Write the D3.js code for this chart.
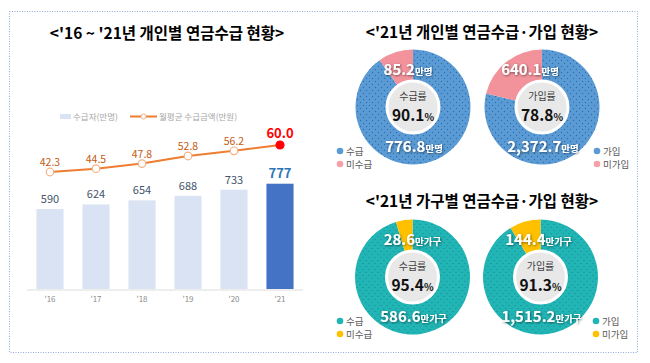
<!DOCTYPE html>
<html>
<head>
<meta charset="utf-8">
<script src="https://cdn.jsdelivr.net/npm/d3@7"></script>
<style>
  body { margin: 0; background: #fff; }
  svg { display: block; font-family: "Noto Sans CJK KR", "Noto Sans", sans-serif; }
</style>
</head>
<body>
<svg width="650" height="363"></svg>
<script>
// bar + line data
const years = ["'16", "'17", "'18", "'19", "'20", "'21"];
const recipients = [590, 624, 654, 688, 733, 777];
const avgAmount = [42.3, 44.5, 47.8, 52.8, 56.2, 60.0];

// donut data: [received/joined, not]
const personReceive = [776.8, 85.2];
const personJoin = [2372.7, 640.1];
const householdReceive = [586.6, 28.6];
const householdJoin = [1515.2, 144.4];
const rateLabels = ['90.1', '78.8', '95.4', '91.3'];
const valueLabels = [
  ['776.8', '85.2'],
  ['2,372.7', '640.1'],
  ['586.6', '28.6'],
  ['1,515.2', '144.4'],
];

const svg = d3.select('svg');

// frame
svg.append('rect')
  .attr('x', 9.5).attr('y', 11.5).attr('width', 628).attr('height', 341)
  .attr('fill', 'none').attr('stroke', '#8faadc').attr('stroke-width', 1)
  .attr('stroke-dasharray', '1,1.5');

// ---------- left chart ----------
svg.append('text')
  .attr('x', 167).attr('y', 39).attr('text-anchor', 'middle')
  .attr('font-size', 15.5).attr('font-weight', 'bold').attr('fill', '#000')
  .text("<'16 ~ '21년 개인별 연금수급 현황>");

const BASE = 289;
const x = d3.scaleBand().domain(years).range([27, 303])
  .paddingInner(0.41).paddingOuter(0.205);
const y = d3.scaleLinear().domain([0, 1000]).range([BASE, BASE - 135.5]);
const yLine = d3.scaleLinear().domain([0, 60]).range([236.5, 145]);

const last = years.length - 1;

svg.append('g')
  .selectAll('rect')
  .data(recipients)
  .enter()
  .append('rect')
  .attr('x', (d, i) => x(years[i]))
  .attr('y', (d) => y(d))
  .attr('width', x.bandwidth())
  .attr('height', (d) => BASE - y(d))
  .attr('fill', (d, i) => (i === last ? '#4472c4' : '#dae3f3'));

// axis line
svg.append('line')
  .attr('x1', 27).attr('x2', 303).attr('y1', BASE + 1).attr('y2', BASE + 1)
  .attr('stroke', '#eeeeee').attr('stroke-width', 2);

const axis = svg.append('g')
  .attr('transform', `translate(0, ${BASE + 3})`)
  .call(d3.axisBottom(x).tickSize(0).tickPadding(4));
axis.select('.domain').remove();
axis.selectAll('text')
  .attr('font-size', 8).attr('fill', '#8c8c8c')
  .attr('font-family', '"Noto Sans CJK KR", sans-serif');

// bar labels
svg.append('g')
  .selectAll('text')
  .data(recipients)
  .enter()
  .append('text')
  .attr('x', (d, i) => x(years[i]) + x.bandwidth() / 2)
  .attr('y', (d) => y(d) - 6)
  .attr('text-anchor', 'middle')
  .attr('font-size', (d, i) => (i === last ? 13 : 11))
  .attr('font-weight', (d, i) => (i === last ? 'bold' : 'normal'))
  .attr('fill', (d, i) => (i === last ? '#2e75b6' : '#44546a'))
  .text((d) => d);

// line
const cx = (i) => x(years[i]) + x.bandwidth() / 2;
svg.append('path')
  .datum(avgAmount)
  .attr('fill', 'none')
  .attr('stroke', '#ed7d31')
  .attr('stroke-width', 2)
  .attr('d', d3.line().x((d, i) => cx(i)).y((d) => yLine(d)));

svg.append('g')
  .selectAll('circle')
  .data(avgAmount)
  .enter()
  .append('circle')
  .attr('cx', (d, i) => cx(i))
  .attr('cy', (d) => yLine(d))
  .attr('r', (d, i) => (i === last ? 4 : 3.8))
  .attr('fill', (d, i) => (i === last ? '#ff0000' : '#fff'))
  .attr('stroke', (d, i) => (i === last ? '#ff0000' : '#f4b183'))
  .attr('stroke-width', 1.2);

svg.append('g')
  .selectAll('text')
  .data(avgAmount)
  .enter()
  .append('text')
  .attr('x', (d, i) => cx(i))
  .attr('y', (d, i) => yLine(d) - (i === last ? 7 : 6))
  .attr('text-anchor', 'middle')
  .attr('font-size', (d, i) => (i === last ? 13 : 10.5))
  .attr('font-weight', (d, i) => (i === last ? 'bold' : 'normal'))
  .attr('fill', (d, i) => (i === last ? '#ff0000' : '#c55a11'))
  .text((d) => d.toFixed(1));

// legend
const lg = svg.append('g').attr('font-size', 8.5).attr('fill', '#a6a6a6');
lg.append('rect').attr('x', 60).attr('y', 114).attr('width', 11).attr('height', 5).attr('fill', '#dae3f3');
lg.append('text').attr('x', 73).attr('y', 120).text('수급자(만명)');
lg.append('line').attr('x1', 130).attr('x2', 157).attr('y1', 116.5).attr('y2', 116.5)
  .attr('stroke', '#ed7d31').attr('stroke-width', 2);
lg.append('circle').attr('cx', 143.5).attr('cy', 116.5).attr('r', 2.5)
  .attr('fill', '#fff').attr('stroke', '#f4b183');
lg.append('text').attr('x', 159).attr('y', 120).text('월평균 수급금액(만원)');

// ---------- right donuts ----------
const defs = svg.append('defs');
function dotPattern(id, bg, dot) {
  const p = defs.append('pattern').attr('id', id)
    .attr('patternUnits', 'userSpaceOnUse').attr('width', 6).attr('height', 6);
  p.append('rect').attr('width', 6).attr('height', 6).attr('fill', bg);
  p.append('circle').attr('cx', 1.5).attr('cy', 1.5).attr('r', 0.7).attr('fill', dot);
  p.append('circle').attr('cx', 4.5).attr('cy', 4.5).attr('r', 0.7).attr('fill', dot);
}
dotPattern('blueDots', '#5b9bd5', '#2f6ea8');
dotPattern('tealDots', '#22b5b6', '#17918f');

const shadow = defs.append('filter').attr('id', 'shadow')
  .attr('x', '-20%').attr('y', '-40%').attr('width', '140%').attr('height', '180%');
shadow.append('feDropShadow').attr('dx', 0.8).attr('dy', 0.8).attr('stdDeviation', 0.8)
  .attr('flood-color', '#000').attr('flood-opacity', 0.55);

svg.append('text')
  .attr('x', 482).attr('y', 38).attr('text-anchor', 'middle')
  .attr('font-size', 15.5).attr('font-weight', 'bold').attr('fill', '#000')
  .text("<'21년 개인별 연금수급·가입 현황>");
svg.append('text')
  .attr('x', 482).attr('y', 207).attr('text-anchor', 'middle')
  .attr('font-size', 15.5).attr('font-weight', 'bold').attr('fill', '#000')
  .text("<'21년 가구별 연금수급·가입 현황>");

const donuts = [
  { values: personReceive, cx: 413, cy: 107, fill: 'url(#blueDots)', other: '#f2939c', unit: '만명', rateName: '수급률', legend: ['수급', '미수급'], legendColors: ['#5b9bd5', '#f4a0a8'], legendX: 340, dx: -5 },
  { values: personJoin, cx: 542, cy: 107, fill: 'url(#blueDots)', other: '#f2939c', unit: '만명', rateName: '가입률', legend: ['가입', '미가입'], legendColors: ['#5b9bd5', '#f4a0a8'], legendX: 597, dx: -12 },
  { values: householdReceive, cx: 412.5, cy: 277, fill: 'url(#tealDots)', other: '#ffc000', unit: '만가구', rateName: '수급률', legend: ['수급', '미수급'], legendColors: ['#22b5b6', '#ffc000'], legendX: 340, dx: 0 },
  { values: householdJoin, cx: 540.5, cy: 277, fill: 'url(#tealDots)', other: '#ffc000', unit: '만가구', rateName: '가입률', legend: ['가입', '미가입'], legendColors: ['#22b5b6', '#ffc000'], legendX: 596, dx: -2 },
];

const pie = d3.pie().sort(null);
const arc = d3.arc().innerRadius(0).outerRadius(57.5);

donuts.forEach((dn, k) => {
  const g = svg.append('g').attr('transform', `translate(${dn.cx}, ${dn.cy})`);
  g.selectAll('path')
    .data(pie(dn.values))
    .enter()
    .append('path')
    .attr('d', arc)
    .attr('fill', (d, i) => (i === 0 ? dn.fill : dn.other));

  g.append('circle').attr('r', 26)
    .attr('fill', '#e8e8e8').attr('stroke', '#fff').attr('stroke-width', 3);

  g.append('text').attr('y', -7).attr('text-anchor', 'middle')
    .attr('font-size', 10).attr('fill', '#404040').text(dn.rateName);
  const rt = g.append('text').attr('y', 14).attr('text-anchor', 'middle')
    .attr('font-weight', 'bold').attr('fill', '#111');
  rt.append('tspan').attr('font-size', 15.5).text(rateLabels[k]);
  rt.append('tspan').attr('font-size', 10).text('%');

  // value labels
  const lbls = valueLabels[k];
  const pos = [[1, 45], [dn.dx, -32]];
  lbls.forEach((v, i) => {
    const t = g.append('text')
      .attr('x', pos[i][0]).attr('y', pos[i][1])
      .attr('text-anchor', 'middle').attr('fill', '#fff')
      .attr('font-weight', 'bold').attr('filter', 'url(#shadow)');
    t.append('tspan').attr('font-size', 15).text(v);
    t.append('tspan').attr('font-size', 9.5).text(dn.unit);
  });

  // legend
  const legY = dn.cy + 44;
  dn.legend.forEach((name, i) => {
    svg.append('circle').attr('cx', dn.legendX).attr('cy', legY + i * 13).attr('r', 3.3)
      .attr('fill', dn.legendColors[i]);
    svg.append('text').attr('x', dn.legendX + 6).attr('y', legY + i * 13 + 3.5)
      .attr('font-size', 9.5).attr('fill', '#595959').text(name);
  });
});
</script>
</body>
</html>
